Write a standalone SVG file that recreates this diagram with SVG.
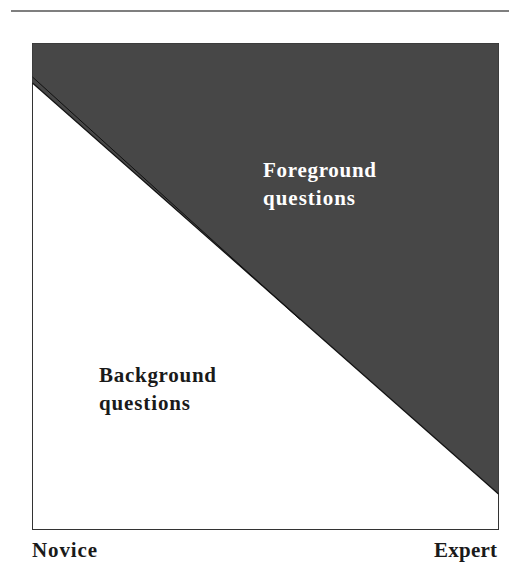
<svg xmlns="http://www.w3.org/2000/svg" width="509" height="562" viewBox="0 0 509 562">
<style>
  .lbl { font-family: "Liberation Serif", "Times New Roman", serif; font-weight: bold; font-size: 21px; }
  .dark { fill: #1a1a1a; }
  .light { fill: #ffffff; }
</style>
<rect width="509" height="562" fill="#ffffff"/>
<line x1="11" y1="11" x2="509" y2="11" stroke="#555555" stroke-width="1.6"/>
<g id="chart">
  <rect x="32.5" y="43.5" width="466" height="486" fill="#ffffff" stroke="#333333" stroke-width="1"/>
  <polygon points="32.5,43.5 498.5,43.5 498.5,494 32.5,83" fill="#474747"/>
  <line x1="32.5" y1="83" x2="498.5" y2="494" stroke="#111111" stroke-width="1.2"/>
  <line x1="32.5" y1="77" x2="300" y2="319.5" stroke="#111111" stroke-width="1"/>
</g>
<g id="foreground">
  <text class="lbl light" x="263" y="177" textLength="113" lengthAdjust="spacing">Foreground</text>
  <text class="lbl light" x="263" y="205" textLength="92" lengthAdjust="spacing">questions</text>
</g>
<g id="background">
  <text class="lbl dark" x="99" y="382" textLength="117" lengthAdjust="spacing">Background</text>
  <text class="lbl dark" x="99" y="410" textLength="91" lengthAdjust="spacing">questions</text>
</g>
<g id="axis">
  <text class="lbl dark" x="32" y="557" textLength="65" lengthAdjust="spacing">Novice</text>
  <text class="lbl dark" x="434" y="557" textLength="63" lengthAdjust="spacing">Expert</text>
</g>
</svg>
